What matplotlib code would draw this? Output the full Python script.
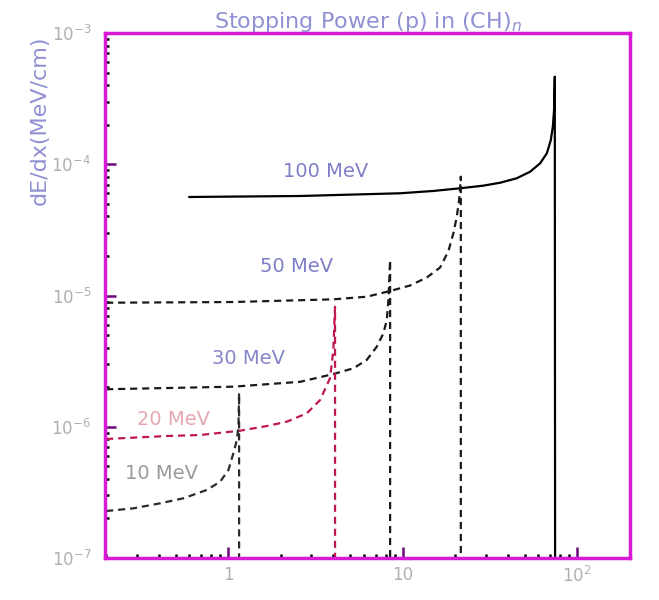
import matplotlib
matplotlib.use("Agg")
from matplotlib import pyplot as plt

# depth (cm) and dE/dx
x_100 = [0.600, 2.586, 9.68, 15.02, 21.36, 29.04, 36.2, 45.1, 53.8, 61.4, 67.1, 70.7, 72.6, 73.8, 74.5, 74.8]
y_100 = [5.63e-5, 5.73e-5, 6.01e-5, 6.26e-5, 6.56e-5, 6.87e-5, 7.23e-5, 7.82e-5, 8.77e-5,
         1.017e-4, 1.212e-4, 1.53e-4, 1.93e-4, 2.59e-4, 4.65e-4, 1e-7]

x_50 = [0.2, 1.072, 4.01, 6.23, 8.48, 11.04, 13.76, 16.40, 18.30, 19.55, 20.44, 21.08, 21.36, 21.56, 21.56]
y_50 = [8.81e-6, 8.92e-6, 9.35e-6, 9.79e-6, 1.082e-5, 1.192e-5, 1.371e-5, 1.634e-5, 2.18e-5,
        2.98e-5, 3.99e-5, 5.34e-5, 6.75e-5, 8.04e-5, 1e-7]

x_30 = [0.2, 1.072, 2.586, 4.01, 5.23, 6.23, 7.11, 7.76, 8.12, 8.29, 8.48, 8.48]
y_30 = [1.93e-6, 2.02e-6, 2.20e-6, 2.52e-6, 2.79e-6, 3.23e-6, 4.07e-6, 5.15e-6, 6.51e-6,
        9.24e-6, 1.86e-5, 1e-7]

x_20 = [0.2, 0.445, 0.691, 1.172, 1.667, 2.17, 2.825, 3.37, 3.84, 4.01, 4.10, 4.10]
y_20 = [8.07e-7, 8.50e-7, 8.65e-7, 9.33e-7, 1.013e-6, 1.093e-6, 1.266e-6, 1.60e-6, 2.35e-6,
        3.84e-6, 8.21e-6, 1e-7]

x_10 = [0.2, 0.2867, 0.4076, 0.554, 0.755, 0.900, 1.004, 1.072, 1.122, 1.146, 1.156, 1.156]
y_10 = [2.28e-7, 2.39e-7, 2.61e-7, 2.85e-7, 3.30e-7, 3.81e-7, 4.68e-7, 6.28e-7, 7.93e-7,
        1.00e-6, 1.81e-6, 1e-7]

labels = ["100 MeV", "50 MeV", "30 MeV", "20 MeV", "10 MeV"]
label_x = [2.07, 1.52, 0.81, 0.301, 0.257]
label_y = [8.73e-5, 1.65e-5, 3.34e-6, 1.13e-6, 4.44e-7]
label_colors = ["#7f7fc8", "#7f7fc8", "#8585c8", "#e6a8b0", "#9a9a9a"]

fig = plt.figure(figsize=(6.59, 6.0), dpi=100)
ax = fig.add_axes([105 / 659, 42 / 600, 525 / 659, 525 / 600])
ax.set_xscale("log")
ax.set_yscale("log")

ax.plot(x_100, y_100, color="black", lw=1.6)
ax.plot(x_50, y_50, color="#1a1a1a", lw=1.6, dashes=(3.2, 2.2))
ax.plot(x_30, y_30, color="#1a1a1a", lw=1.6, dashes=(3.2, 2.2))
ax.plot(x_20, y_20, color="#c0184a", lw=1.6, dashes=(3.2, 2.2))
ax.plot(x_10, y_10, color="#2a2a2a", lw=1.6, dashes=(3.2, 2.2))

for t, lx, ly, c in zip(labels, label_x, label_y, label_colors):
    ax.text(lx, ly, t, color=c, fontsize=14, ha="left", va="center")

ax.set_xlim(0.197, 201)
ax.set_ylim(1e-7, 1e-3)

ax.set_xticks([1, 10, 100])
ax.set_xticklabels(["1", "10", r"$10^{2}$"])
ax.set_yticks([1e-7, 1e-6, 1e-5, 1e-4, 1e-3])
ax.set_yticklabels([r"$10^{-7}$", r"$10^{-6}$", r"$10^{-5}$", r"$10^{-4}$", r"$10^{-3}$"])

ax.tick_params(which="major", direction="in", length=8, width=1.8, color="#6a0a7a",
               labelcolor="#b0b0b0", labelsize=12, top=False, right=False)
ax.tick_params(which="minor", direction="in", length=3, width=1.8, color="black",
               top=False, right=False)
ax.tick_params(axis="x", which="major", pad=6)
ax.tick_params(axis="y", which="major", pad=10)

for s in ax.spines.values():
    s.set_color("#d81ad8")
    s.set_linewidth(2.5)

fig.text(368 / 659, 1 - 22 / 600, r"Stopping Power (p) in (CH)$_n$", color="#9090d4",
         fontsize=16, ha="center", va="center")
fig.text(40 / 659, 1 - 120 / 600, "dE/dx(MeV/cm)", color="#9090d4", fontsize=16,
         rotation=90, ha="center", va="center")

fig.savefig("out.png", dpi=100)
